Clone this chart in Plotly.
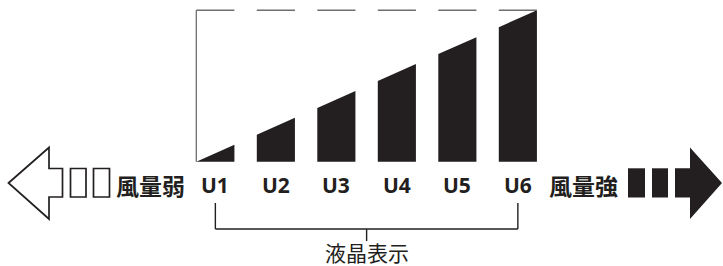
import plotly.graph_objects as go

# ---- data ----
levels = ["U1", "U2", "U3", "U4", "U5", "U6"]
bar_start = [0, 1, 2, 3, 4, 5]
left_height = [0.0, 1.0, 2.0, 3.0, 4.0, 5.0]
right_height = [0.63, 1.63, 2.63, 3.63, 4.63, 5.63]
max_height = 5.63
weak_label = "風量弱"
strong_label = "風量強"
caption = "液晶表示"

# ---- layout constants ----
W, H = 723, 266
BAR_W = 0.63
X0, SX = 196.3, 60.5      # pixel x of value 0, pixels per unit
Y0, SY = 161.7, 26.9      # pixel y of value 0, pixels per unit
DARK = "#231f20"
GREY = "#6d6e71"

def px(xp):
    return xp / W

def py(yp):
    return 1 - yp / H

fig = go.Figure()

# bars (trapezoids with sloped tops)
bx, by = [], []
for s, lh, rh in zip(bar_start, left_height, right_height):
    bx += [s, s, s + BAR_W, s + BAR_W, s, None]
    by += [0, lh, rh, 0, 0, None]
fig.add_trace(go.Scatter(x=bx, y=by, mode="lines", fill="toself",
                         fillcolor=DARK, line=dict(width=0, color=DARK),
                         hoverinfo="skip", showlegend=False))

# max-level outline: top dashes + left edge
tx, ty = [], []
for s in bar_start:
    tx += [s, s + BAR_W, None]
    ty += [max_height, max_height, None]
tx += [bar_start[0], bar_start[0]]
ty += [0, max_height]
fig.add_trace(go.Scatter(x=tx, y=ty, mode="lines",
                         line=dict(width=1.3, color=GREY),
                         hoverinfo="skip", showlegend=False))

# level labels
label_y = py(184.5)
for s, lab in zip(bar_start, levels):
    fig.add_annotation(x=s + BAR_W / 2, y=label_y, xref="x", yref="paper",
                       text="<b>" + lab + "</b>", showarrow=False,
                       xanchor="center", yanchor="middle",
                       font=dict(family="Open Sans, Noto Sans", size=21, color=DARK))

fig.add_annotation(x=px(150.5), y=label_y, xref="paper", yref="paper",
                   text="<b>" + weak_label + "</b>", showarrow=False,
                   xanchor="center", yanchor="middle",
                   font=dict(family="Noto Sans CJK JP", size=23, color=DARK))
fig.add_annotation(x=px(583.5), y=label_y, xref="paper", yref="paper",
                   text="<b>" + strong_label + "</b>", showarrow=False,
                   xanchor="center", yanchor="middle",
                   font=dict(family="Noto Sans CJK JP", size=23, color=DARK))

# bracket under labels
c_first = bar_start[0] + BAR_W / 2
c_last = bar_start[-1] + BAR_W / 2
c_mid = (c_first + c_last) / 2
bl = dict(color=DARK, width=1.4)
fig.add_shape(type="line", xref="x", yref="paper", x0=c_first, x1=c_first,
              y0=py(203), y1=py(229), line=bl)
fig.add_shape(type="line", xref="x", yref="paper", x0=c_last, x1=c_last,
              y0=py(203), y1=py(229), line=bl)
fig.add_shape(type="line", xref="x", yref="paper", x0=c_first, x1=c_last,
              y0=py(229), y1=py(229), line=bl)
fig.add_shape(type="line", xref="x", yref="paper", x0=c_mid, x1=c_mid,
              y0=py(229), y1=py(241), line=bl)
fig.add_annotation(x=c_mid, y=py(252), xref="x", yref="paper",
                   text=caption, showarrow=False, xanchor="center", yanchor="middle",
                   borderpad=0,
                   font=dict(family="Noto Sans CJK JP", size=21, color=DARK))

# left outline arrow and boxes
def path(points):
    return "M " + " L ".join(f"{px(a)},{py(b)}" for a, b in points) + " Z"

left_arrow = [(8.5, 183), (49, 147.5), (49, 168.5), (62.5, 168.5),
              (62.5, 197), (49, 197), (49, 219)]
fig.add_shape(type="path", xref="paper", yref="paper", path=path(left_arrow),
              line=dict(color=DARK, width=1.7), fillcolor="white")
for a, b in [(70.5, 86), (93.5, 109.5)]:
    fig.add_shape(type="rect", xref="paper", yref="paper",
                  x0=px(a), x1=px(b), y0=py(168.5), y1=py(197),
                  line=dict(color=DARK, width=1.7), fillcolor="rgba(0,0,0,0)")

# right filled boxes and arrow
for a, b in [(628, 645), (652, 668)]:
    fig.add_shape(type="rect", xref="paper", yref="paper",
                  x0=px(a), x1=px(b), y0=py(168.3), y1=py(197.5),
                  line=dict(width=0), fillcolor=DARK)
right_arrow = [(675, 168.3), (690, 168.3), (690, 147.5), (722, 183),
               (690, 219), (690, 197.5), (675, 197.5)]
fig.add_shape(type="path", xref="paper", yref="paper", path=path(right_arrow),
              line=dict(width=0), fillcolor=DARK)

fig.update_layout(
    width=W, height=H,
    margin=dict(l=0, r=0, t=0, b=0),
    paper_bgcolor="white", plot_bgcolor="white",
    xaxis=dict(range=[(0 - X0) / SX, (W - X0) / SX], visible=False, fixedrange=True),
    yaxis=dict(range=[(Y0 - H) / SY, Y0 / SY], visible=False, fixedrange=True),
    showlegend=False,
)

fig.write_html("out.html", config={"displayModeBar": False},
               post_script="document.body.style.margin='0';document.body.style.overflow='hidden';")
